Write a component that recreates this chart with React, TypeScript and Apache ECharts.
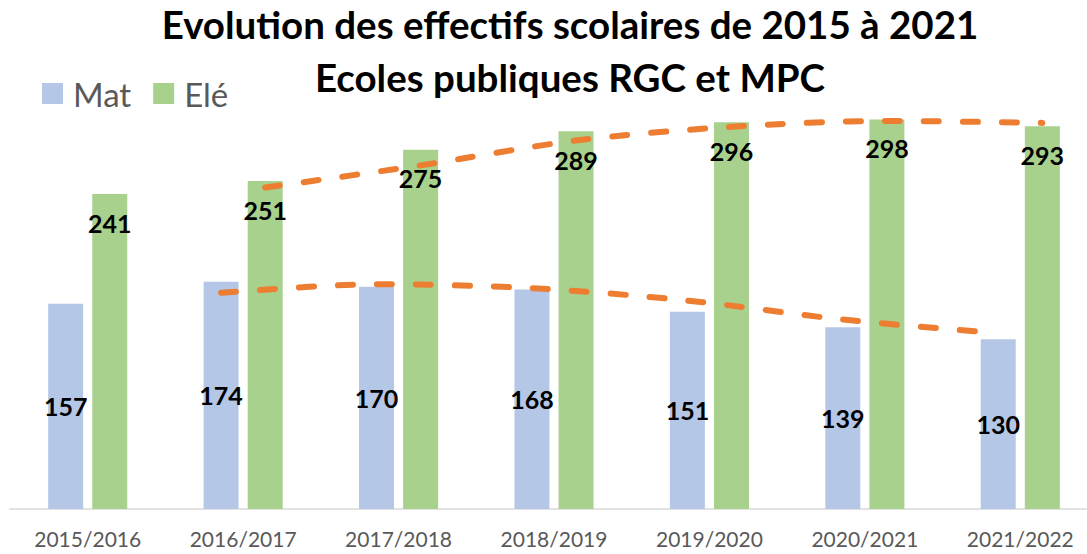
import React, { useEffect, useRef } from "react";
import * as echarts from "echarts";

const categories = ["2015/2016", "2016/2017", "2017/2018", "2018/2019", "2019/2020", "2020/2021", "2021/2022"];
const matValues = [157, 174, 170, 168, 151, 139, 130];
const eleValues = [241, 251, 275, 289, 296, 298, 293];
// moving-average trend lines (period 2)
const matTrend = [null, 165.5, 172, 169, 159.5, 145, 134.5];
const eleTrend = [null, 246, 263, 282, 292.5, 297, 295.5];
const titleLines = ["Evolution des effectifs scolaires de 2015 à 2021", "Ecoles publiques RGC et MPC"];

const FONT = "Lato, 'Open Sans', sans-serif";
const MAT_COLOR = "#B4C7E7";
const ELE_COLOR = "#A9D18E";
const TREND_COLOR = "#ED7D31";

// the chart canvas is wider than the window so the plot can run past the right edge
const OFF = 30;
const CANVAS_W = 1180;

export default function App() {
  const ref = useRef<HTMLDivElement>(null);
  useEffect(() => {
    if (!ref.current) return;
    const chart = echarts.init(ref.current, undefined, { renderer: "svg" });
    const top = 117;
    const bottom = 45;
    const left = 10 + OFF;
    const plotW = 1088;
    const right = CANVAS_W - left - plotW;
    const shift = 22;
    const hiddenX = (gi: number) => ({
      type: "category",
      gridIndex: gi,
      data: categories,
      show: false,
    });
    const hiddenY = (gi: number) => ({
      type: "value",
      gridIndex: gi,
      min: 0,
      max: 300,
      show: false,
      splitLine: { show: false },
    });
    const trendStyle = {
      color: TREND_COLOR,
      width: 6,
      type: [15, 24],
      cap: "round",
    };
    const titleStyle = {
      fontFamily: FONT,
      fontWeight: "bold",
      fontSize: 38.5,
      fill: "#000000",
      align: "center",
      verticalAlign: "middle",
    };
    chart.setOption({
      animation: false,
      backgroundColor: "#ffffff",
      graphic: [
        {
          type: "text",
          x: 570 + OFF,
          y: 24,
          style: { ...titleStyle, text: titleLines[0] },
        },
        {
          type: "text",
          x: 570 + OFF,
          y: 77,
          style: { ...titleStyle, text: titleLines[1] },
        },
      ],
      legend: {
        left: 42 + OFF,
        top: 77,
        padding: 0,
        icon: "rect",
        itemWidth: 21,
        itemHeight: 21,
        itemGap: 22,
        data: ["Mat", "Elé"],
        textStyle: {
          fontFamily: FONT,
          fontSize: 33,
          color: "#595959",
          padding: [0, 0, 0, 5],
        },
      },
      grid: [
        { left, right, top, bottom },
        { left: left - shift, right: right + shift, top, bottom },
        { left: left + shift, right: right - shift, top, bottom },
      ],
      xAxis: [
        {
          type: "category",
          gridIndex: 0,
          data: categories,
          axisLine: { lineStyle: { color: "#D9D9D9", width: 1.5 } },
          axisTick: { show: false },
          axisLabel: {
            color: "#595959",
            fontFamily: FONT,
            fontSize: 21,
            margin: 19,
          },
        },
        hiddenX(1),
        hiddenX(2),
      ],
      yAxis: [
        {
          type: "value",
          gridIndex: 0,
          min: 0,
          max: 300,
          show: false,
          splitLine: { show: false },
        },
        hiddenY(1),
        hiddenY(2),
      ],
      series: [
        {
          name: "Mat",
          type: "bar",
          data: matValues,
          barWidth: 35,
          barGap: "26%",
          itemStyle: { color: MAT_COLOR },
          label: {
            show: true,
            position: "inside",
            color: "#000000",
            fontFamily: FONT,
            fontWeight: "bold",
            fontSize: 25,
          },
        },
        {
          name: "Elé",
          type: "bar",
          data: eleValues,
          barWidth: 35,
          barGap: "26%",
          itemStyle: { color: ELE_COLOR },
          label: {
            show: true,
            position: "insideTop",
            distance: 16,
            color: "#000000",
            fontFamily: FONT,
            fontWeight: "bold",
            fontSize: 25,
          },
        },
        {
          name: "Mat trend",
          type: "line",
          xAxisIndex: 1,
          yAxisIndex: 1,
          data: matTrend,
          smooth: 0.3,
          symbol: "none",
          lineStyle: trendStyle,
          silent: true,
        },
        {
          name: "Elé trend",
          type: "line",
          xAxisIndex: 2,
          yAxisIndex: 2,
          data: eleTrend,
          smooth: 0.3,
          symbol: "none",
          lineStyle: trendStyle,
          silent: true,
        },
      ],
    });
    return () => chart.dispose();
  }, []);
  return (
    <div
      style={{
        position: "fixed",
        left: 0,
        top: 0,
        width: 1087,
        height: 554,
        overflow: "hidden",
        background: "#ffffff",
      }}
    >
      <div
        ref={ref}
        style={{ position: "absolute", left: -OFF, top: 0, width: CANVAS_W, height: 554 }}
      />
    </div>
  );
}
